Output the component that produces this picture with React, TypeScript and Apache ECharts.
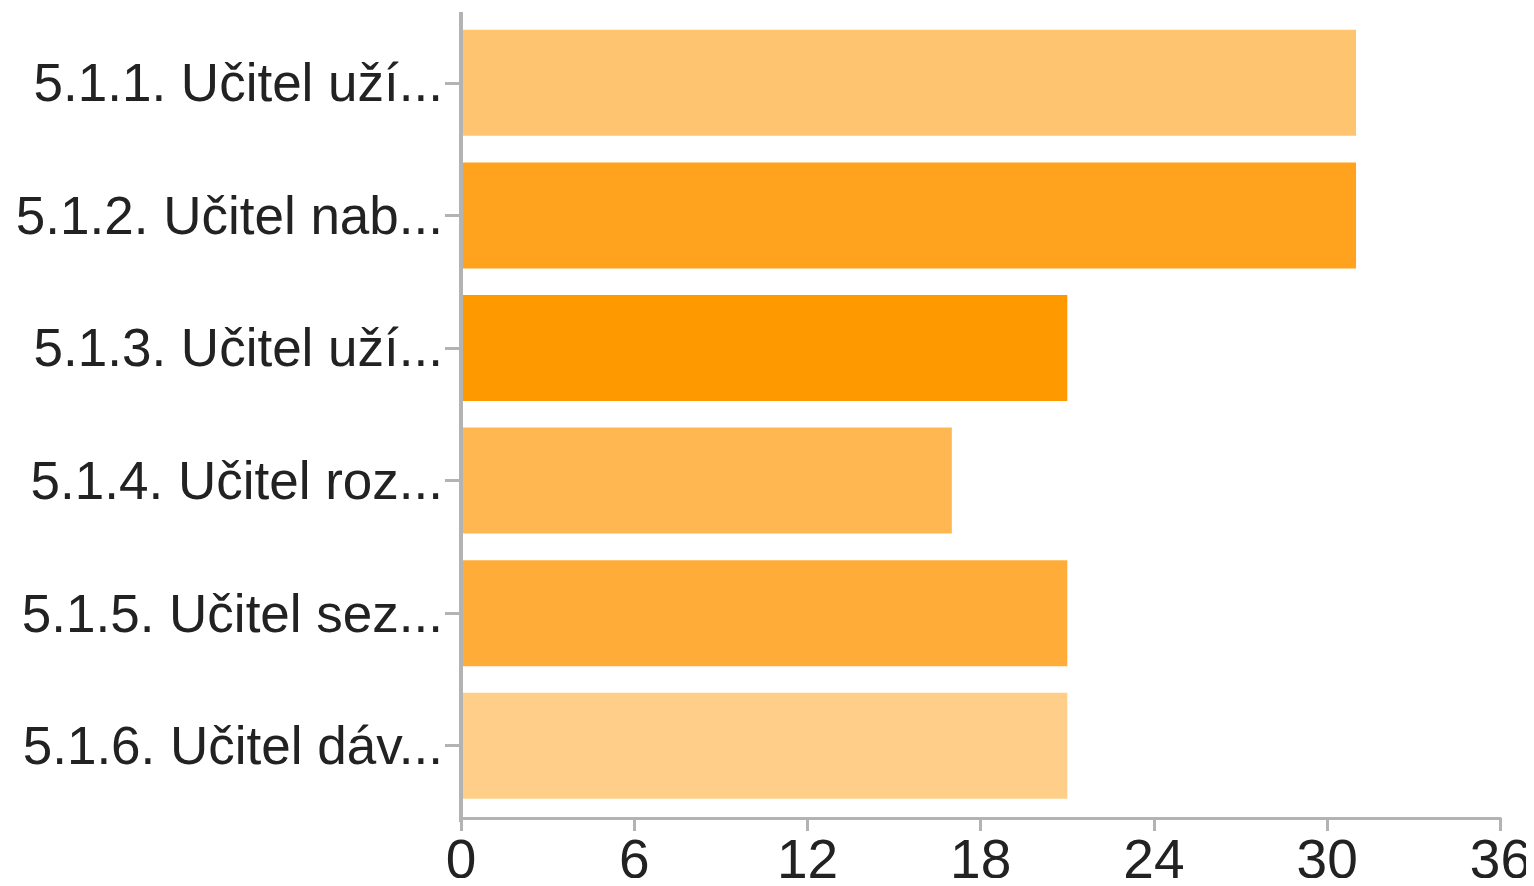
import React, { useEffect, useRef } from "react";
import * as echarts from "echarts";

const categories = [
  "5.1.1. Učitel uží...",
  "5.1.2. Učitel nab...",
  "5.1.3. Učitel uží...",
  "5.1.4. Učitel roz...",
  "5.1.5. Učitel sez...",
  "5.1.6. Učitel dáv...",
];
const values = [31, 31, 21, 17, 21, 21];
const barColors = ["#FEC470", "#FFA31F", "#FF9900", "#FFB851", "#FFAD38", "#FFCF89"];
const xTicks = [0, 6, 12, 18, 24, 30, 36];

export default function App() {
  const ref = useRef<HTMLDivElement>(null);
  useEffect(() => {
    if (!ref.current) return;
    const chart = echarts.init(ref.current, undefined, { renderer: "svg" });
    chart.setOption({
      animation: false,
      grid: { left: 461, right: 32, top: 16.5, bottom: 71.5, containLabel: false },
      xAxis: {
        type: "value",
        min: xTicks[0],
        max: xTicks[xTicks.length - 1],
        interval: 6,
        offset: 6,
        splitLine: { show: false },
        axisLine: { show: true, lineStyle: { color: "#b3b3b3", width: 3 } },
        axisTick: { show: true, length: 13, lineStyle: { color: "#b3b3b3", width: 3 } },
        axisLabel: {
          color: "#222",
          fontFamily: "Liberation Sans, Arial, sans-serif",
          fontSize: 55,
          margin: 13,
        },
      },
      yAxis: {
        type: "category",
        data: categories,
        inverse: true,
        axisLine: { show: false },
        axisTick: { show: true, alignWithLabel: true, length: 16, lineStyle: { color: "#b3b3b3", width: 3 } },
        axisLabel: {
          color: "#222",
          fontFamily: "Liberation Sans, Arial, sans-serif",
          fontSize: 53,
          margin: 18,
        },
      },
      graphic: [
        {
          type: "line",
          shape: { x1: 461, y1: 12, x2: 461, y2: 822 },
          style: { stroke: "#b3b3b3", lineWidth: 4 },
          z: 10,
        },
      ],
      series: [
        {
          type: "bar",
          barWidth: 106,
          data: values.map((v, i) => ({ value: v, itemStyle: { color: barColors[i] } })),
        },
      ],
    });
    return () => chart.dispose();
  }, []);
  return <div ref={ref} style={{ width: 1534, height: 886, margin: -8 }} />;
}
